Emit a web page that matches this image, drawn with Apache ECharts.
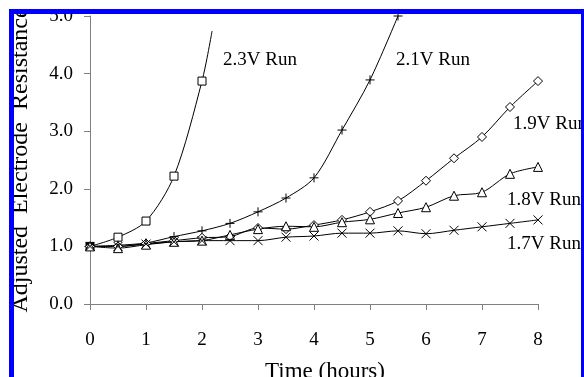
<!DOCTYPE html>
<html>
<head>
<meta charset="utf-8">
<script src="https://cdn.jsdelivr.net/npm/echarts@6/dist/echarts.min.js"></script>
<style>
  html, body { margin: 0; padding: 0; background: #fff; }
  #chart { width: 584px; height: 377px; }
</style>
</head>
<body>
<div id="chart"></div>
<script>
// ---- data ----
var hours = [0, 0.5, 1, 1.5, 2, 2.5, 3, 3.5, 4, 4.5, 5, 5.5, 6, 6.5, 7, 7.5, 8];
var run23 = [1.0, 1.16, 1.44, 2.22, 3.87];
var run23TrendEnd = [2.18, 4.74];
var run21 = [1.0, 1.02, 1.06, 1.17, 1.27, 1.4, 1.6, 1.84, 2.19, 3.02, 3.89, 5.0];
var run19 = [1.0, 1.0, 1.05, 1.1, 1.15, 1.17, 1.32, 1.3, 1.37, 1.46, 1.6, 1.79, 2.14, 2.53, 2.9, 3.42, 3.87];
var run18 = [1.0, 0.97, 1.03, 1.08, 1.1, 1.2, 1.3, 1.35, 1.34, 1.42, 1.47, 1.58, 1.68, 1.88, 1.94, 2.26, 2.38];
var run17 = [1.0, 1.0, 1.04, 1.08, 1.1, 1.1, 1.1, 1.16, 1.18, 1.23, 1.23, 1.27, 1.22, 1.28, 1.34, 1.4, 1.46];
var seriesNames = ['2.3V Run', '2.1V Run', '1.9V Run', '1.8V Run', '1.7V Run'];
var xTicks = [0, 1, 2, 3, 4, 5, 6, 7, 8];
var yTicks = [0, 1, 2, 3, 4, 5];

// ---- styling ----
var SERIF = "'Liberation Serif', 'Times New Roman', 'DejaVu Serif', serif";
var PLUS = 'path://M5,0L5,10M0,5L10,5';
var CROSS = 'path://M0,0L10,10M10,0L0,10';

function pairs(vals) {
  return vals.map(function (v, i) { return [hours[i], v]; });
}

function makeSeries(name, data, symbol, size) {
  return {
    name: name,
    type: 'line',
    data: data,
    smooth: 0.3,
    symbol: symbol,
    symbolSize: size,
    showAllSymbol: true,
    lineStyle: { color: '#000', width: 1 },
    itemStyle: { color: '#fff', borderColor: '#000', borderWidth: 1 },
    emphasis: { disabled: true },
    animation: false,
    z: 3
  };
}

var d23 = pairs(run23);
d23[0] = { value: d23[0], itemStyle: { color: '#000' } };
d23.push({ value: run23TrendEnd, symbol: 'none' });

var series = [
  makeSeries(seriesNames[0], d23, 'rect', 8),
  makeSeries(seriesNames[1], pairs(run21), PLUS, 9),
  makeSeries(seriesNames[2], pairs(run19), 'diamond', 9),
  makeSeries(seriesNames[3], pairs(run18), 'triangle', 9),
  makeSeries(seriesNames[4], pairs(run17), CROSS, 9)
];

var labelPos = [[223, 59], [396, 59], [513, 123], [507, 199], [507, 243]];
var graphics = seriesNames.map(function (n, i) {
  return {
    type: 'text', left: labelPos[i][0], top: labelPos[i][1] - 8, z: 50,
    style: { text: n, font: '19px ' + SERIF, fill: '#000' }
  };
});
// frame (blue border, white margin outside it)
graphics.push(
  { type: 'rect', shape: { x: 0, y: 0, width: 584, height: 9 }, style: { fill: '#fff' }, z: 99 },
  { type: 'rect', shape: { x: 0, y: 0, width: 9, height: 377 }, style: { fill: '#fff' }, z: 99 },
  { type: 'rect', shape: { x: 9, y: 9, width: 575, height: 5 }, style: { fill: '#0000ff' }, z: 100 },
  { type: 'rect', shape: { x: 9, y: 9, width: 5, height: 368 }, style: { fill: '#0000ff' }, z: 100 },
  { type: 'rect', shape: { x: 581, y: 9, width: 3, height: 368 }, style: { fill: '#0000ff' }, z: 100 }
);

var chart = echarts.init(document.getElementById('chart'), null, { renderer: 'canvas' });
chart.setOption({
  animation: false,
  backgroundColor: '#fff',
  grid: { left: 90, right: 46, top: 16, bottom: 73, containLabel: false, outerBoundsMode: 'none' },
  xAxis: {
    type: 'value',
    min: xTicks[0], max: xTicks[xTicks.length - 1], interval: 1,
    name: 'Time (hours)', nameLocation: 'middle', nameGap: 56,
    nameTextStyle: { fontFamily: SERIF, fontSize: 23, color: '#000', padding: [0, 0, 0, 22] },
    axisLine: { lineStyle: { color: '#808080', width: 1 } },
    axisTick: { show: true, inside: false, length: 6, lineStyle: { color: '#808080' } },
    axisLabel: { fontFamily: SERIF, fontSize: 19, color: '#000', margin: 27 },
    splitLine: { show: false }
  },
  yAxis: {
    type: 'value',
    min: yTicks[0], max: yTicks[yTicks.length - 1], interval: 1,
    name: 'Adjusted  Electrode  Resistance', nameLocation: 'middle', nameRotate: 90, nameGap: 57,
    nameTextStyle: { fontFamily: SERIF, fontSize: 24, color: '#000' },
    axisLine: { show: true, lineStyle: { color: '#808080', width: 1 } },
    axisTick: { show: true, inside: false, length: 6, lineStyle: { color: '#808080' } },
    axisLabel: { fontFamily: SERIF, fontSize: 19, color: '#000', margin: 17,
      formatter: function (v) { return v.toFixed(1); } },
    splitLine: { show: false }
  },
  series: series,
  graphic: graphics
});
</script>
</body>
</html>
